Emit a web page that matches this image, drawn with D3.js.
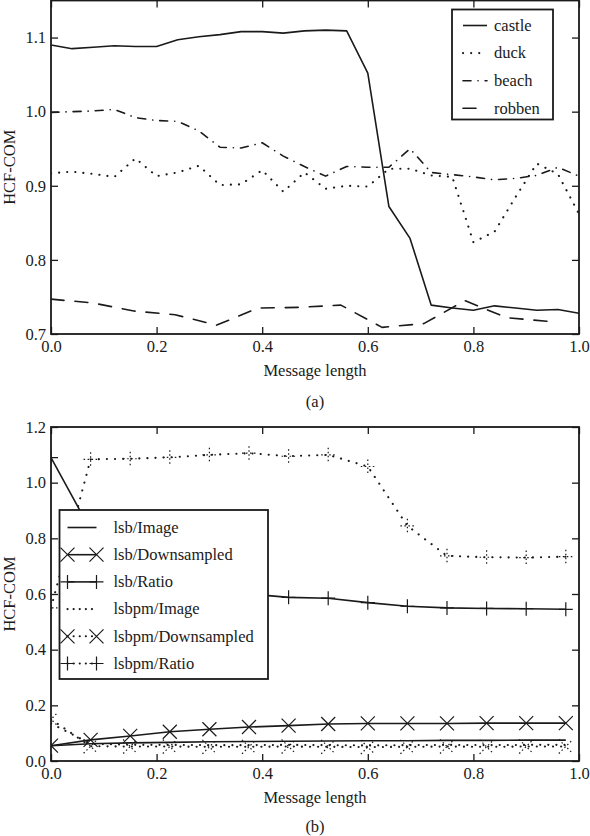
<!DOCTYPE html>
<html><head><meta charset="utf-8">
<script src="https://cdn.jsdelivr.net/npm/d3@7/dist/d3.min.js"></script>
<style>
body{margin:0;background:#fff}
svg{display:block}
text{font-family:"Liberation Serif","Times New Roman",serif;fill:#1a1a1a}
</style>
</head><body>
<svg id="c" width="590" height="836"></svg>
<script>
// ---------- DATA (a) ----------
const xTop = [0, 0.04, 0.08, 0.12, 0.16, 0.20, 0.24, 0.28, 0.32, 0.36, 0.40, 0.44, 0.48, 0.52, 0.56, 0.60, 0.64, 0.68, 0.72, 0.76, 0.80, 0.84, 0.88, 0.92, 0.96, 1.00];
const castle = [1.090, 1.085, 1.087, 1.089, 1.088, 1.088, 1.097, 1.101, 1.104, 1.108, 1.108, 1.106, 1.109, 1.110, 1.109, 1.052, 0.872, 0.829, 0.739, 0.735, 0.732, 0.738, 0.735, 0.732, 0.733, 0.728];
const duck   = [0.917, 0.919, 0.916, 0.912, 0.937, 0.913, 0.918, 0.927, 0.901, 0.902, 0.921, 0.892, 0.918, 0.896, 0.900, 0.899, 0.923, 0.923, 0.914, 0.912, 0.824, 0.838, 0.885, 0.930, 0.916, 0.862];
const beach  = [0.999, 1.000, 1.001, 1.003, 0.992, 0.988, 0.987, 0.974, 0.952, 0.951, 0.958, 0.940, 0.926, 0.913, 0.926, 0.925, 0.925, 0.950, 0.918, 0.915, 0.912, 0.908, 0.910, 0.914, 0.925, 0.913];
const xRobben = [0, 0.078, 0.157, 0.235, 0.314, 0.392, 0.471, 0.549, 0.627, 0.706, 0.784, 0.863, 0.941];
const robben = [0.747, 0.742, 0.731, 0.726, 0.712, 0.735, 0.736, 0.739, 0.709, 0.714, 0.745, 0.722, 0.717];
const seriesTop = ["castle", "duck", "beach", "robben"];
const xTicksTop = [0, 0.2, 0.4, 0.6, 0.8, 1.0];
const yTicksTop = [0.7, 0.8, 0.9, 1.0, 1.1];

// ---------- DATA (b) ----------
const xBot = [0, 0.075, 0.15, 0.225, 0.3, 0.375, 0.45, 0.525, 0.6, 0.675, 0.75, 0.825, 0.9, 0.975];
const lsbImage   = [0.055, 0.062, 0.065, 0.067, 0.069, 0.070, 0.071, 0.072, 0.073, 0.073, 0.074, 0.074, 0.075, 0.075];
const lsbDown    = [0.055, 0.076, 0.090, 0.105, 0.114, 0.122, 0.127, 0.133, 0.135, 0.135, 0.135, 0.136, 0.136, 0.136];
const lsbRatio   = [1.090, 0.830, 0.730, 0.665, 0.625, 0.600, 0.588, 0.585, 0.569, 0.556, 0.550, 0.548, 0.547, 0.545];
const lsbpmImage = [0.135, 0.062, 0.058, 0.058, 0.057, 0.057, 0.058, 0.057, 0.056, 0.057, 0.058, 0.057, 0.058, 0.058];
const lsbpmDown  = [0.150, 0.053, 0.052, 0.052, 0.051, 0.051, 0.052, 0.051, 0.050, 0.051, 0.052, 0.051, 0.052, 0.052];
const lsbpmRatio = [0.550, 1.084, 1.086, 1.091, 1.100, 1.106, 1.095, 1.100, 1.058, 0.845, 0.737, 0.732, 0.731, 0.734];
const seriesBot = ["lsb/Image", "lsb/Downsampled", "lsb/Ratio", "lsbpm/Image", "lsbpm/Downsampled", "lsbpm/Ratio"];
const xTicksBot = [0, 0.2, 0.4, 0.6, 0.8, 1.0];
const yTicksBot = [0, 0.2, 0.4, 0.6, 0.8, 1.0, 1.2];

// ---------- DRAW ----------
const INK = "#1a1a1a";
const FONT = '"Liberation Serif","Times New Roman",serif';
const svg = d3.select("#c");
const fmt = d3.format(".1f");

const styles = {
  solid: null,
  dotted: "0.1,8",
  dashdot: "8,7,0.1,7",
  dashed: "13,11"
};
const markerPath = {
  x: "M-7,-7L7,7M-7,7L7,-7",
  plus: "M-7,0L7,0M0,-7L0,7",
  none: null
};

function panel(id, box, xDom, yDom, xTicks, yTicks) {
  const x = d3.scaleLinear().domain(xDom).range([box.l, box.r]);
  const y = d3.scaleLinear().domain(yDom).range([box.b, box.t]);
  const g = svg.append("g");
  g.append("clipPath").attr("id", id).append("rect")
    .attr("x", box.l).attr("y", box.t).attr("width", box.r - box.l).attr("height", box.b - box.t);
  const style = sel => {
    sel.attr("font-family", FONT).attr("font-size", 16.5);
    sel.select(".domain").remove();
    sel.selectAll(".tick line").attr("stroke", INK).attr("stroke-width", 1.3);
    sel.selectAll("text").attr("fill", INK);
  };
  g.append("g").attr("transform", `translate(0,${box.b})`)
    .call(d3.axisBottom(x).tickValues(xTicks).tickFormat(fmt).tickSizeInner(-7).tickSizeOuter(0).tickPadding(6)).call(style);
  g.append("g").attr("transform", `translate(0,${box.t})`)
    .call(d3.axisTop(x).tickValues(xTicks).tickFormat("").tickSizeInner(-7).tickSizeOuter(0)).call(style);
  g.append("g").attr("transform", `translate(${box.l},0)`)
    .call(d3.axisLeft(y).tickValues(yTicks).tickFormat(fmt).tickSizeInner(-7).tickSizeOuter(0).tickPadding(5)).call(style);
  g.append("g").attr("transform", `translate(${box.r},0)`)
    .call(d3.axisRight(y).tickValues(yTicks).tickFormat("").tickSizeInner(-7).tickSizeOuter(0)).call(style);
  const data = g.append("g").attr("clip-path", `url(#${id})`);
  g.append("rect").attr("x", box.l).attr("y", box.t).attr("width", box.r - box.l).attr("height", box.b - box.t)
    .attr("fill", "none").attr("stroke", INK).attr("stroke-width", 1.8);
  const cx = (box.l + box.r) / 2;
  g.append("text").attr("x", cx).attr("y", box.b + 42).attr("text-anchor", "middle").attr("font-size", 16.5).text("Message length");
  g.append("text").attr("transform", `translate(15,${(box.t + box.b) / 2}) rotate(-90)`).attr("text-anchor", "middle").attr("font-size", 16.5).text("HCF-COM");
  return {x, y, g, data};
}

function drawLine(target, x, y, xs, ys, dash, marker) {
  const pts = d3.zip(xs, ys);
  const line = d3.line().x(d => x(d[0])).y(d => y(d[1]));
  const isDot = dash === styles.dotted;
  target.append("path").attr("d", line(pts)).attr("fill", "none").attr("stroke", INK)
    .attr("stroke-width", isDot ? 2.1 : 1.6).attr("stroke-linecap", dash ? "round" : "butt").attr("stroke-linejoin", "round")
    .attr("stroke-dasharray", dash);
  if (marker && markerPath[marker]) {
    target.selectAll(null).data(pts).enter().append("path")
      .attr("transform", d => `translate(${x(d[0])},${y(d[1])})`)
      .attr("d", markerPath[marker]).attr("fill", "none").attr("stroke", INK).attr("stroke-width", 1.2)
      .attr("stroke-dasharray", dash ? "1.5,2.5" : null);
  }
}

// ----- panel (a) -----
const A = panel("clipA", {l: 51, r: 579, t: 0.5, b: 334}, [0, 1], [0.7, 1.15], xTicksTop, yTicksTop);
const topSeries = [
  {xs: xTop, ys: castle, dash: styles.solid},
  {xs: xTop, ys: duck, dash: styles.dotted},
  {xs: xTop, ys: beach, dash: styles.dashdot},
  {xs: xRobben, ys: robben, dash: styles.dashed}
];
topSeries.forEach(s => drawLine(A.data, A.x, A.y, s.xs, s.ys, s.dash, null));
svg.append("text").attr("x", 315).attr("y", 407).attr("text-anchor", "middle").attr("font-size", 16.5).text("(a)");

// legend (a)
const LA = {x: 452, y: 9.5, w: 101, h: 110, y0: 25.5, dy: 27.6};
const legA = svg.append("g");
legA.append("rect").attr("x", LA.x).attr("y", LA.y).attr("width", LA.w).attr("height", LA.h)
  .attr("fill", "#fff").attr("stroke", INK).attr("stroke-width", 1.8);
seriesTop.forEach((name, i) => {
  const yy = LA.y0 + i * LA.dy;
  const d = topSeries[i].dash;
  legA.append("line").attr("x1", LA.x + 11).attr("x2", LA.x + 35).attr("y1", yy).attr("y2", yy)
    .attr("stroke", INK).attr("stroke-width", d === styles.dotted ? 2.1 : 1.6).attr("stroke-linecap", d ? "round" : "butt")
    .attr("stroke-dasharray", d);
  legA.append("text").attr("x", LA.x + 42).attr("y", yy).attr("dy", "0.32em").attr("font-size", 16.5).text(name);
});

// ----- panel (b) -----
const B = panel("clipB", {l: 51, r: 579, t: 427, b: 761}, [0, 1], [0, 1.2], xTicksBot, yTicksBot);
const botSeries = [
  {ys: lsbImage, dash: styles.solid, marker: "none"},
  {ys: lsbDown, dash: styles.solid, marker: "x"},
  {ys: lsbRatio, dash: styles.solid, marker: "plus"},
  {ys: lsbpmImage, dash: styles.dotted, marker: "none"},
  {ys: lsbpmDown, dash: styles.dotted, marker: "x"},
  {ys: lsbpmRatio, dash: styles.dotted, marker: "plus"}
];
botSeries.forEach(s => drawLine(B.data, B.x, B.y, xBot, s.ys, s.dash, s.marker));
svg.append("text").attr("x", 315).attr("y", 832).attr("text-anchor", "middle").attr("font-size", 16.5).text("(b)");

// legend (b)
const LB = {x: 59.5, y: 510, w: 208.5, h: 169, y0: 527.5, dy: 27.2};
const legB = svg.append("g");
legB.append("rect").attr("x", LB.x).attr("y", LB.y).attr("width", LB.w).attr("height", LB.h)
  .attr("fill", "#fff").attr("stroke", INK).attr("stroke-width", 1.8);
seriesBot.forEach((name, i) => {
  const yy = LB.y0 + i * LB.dy;
  const s = botSeries[i];
  const x1 = LB.x + 8, x2 = LB.x + 37;
  legB.append("line").attr("x1", x1).attr("x2", x2).attr("y1", yy).attr("y2", yy)
    .attr("stroke", INK).attr("stroke-width", s.dash ? 2.1 : 1.6).attr("stroke-linecap", s.dash ? "round" : "butt")
    .attr("stroke-dasharray", s.dash ? "0.1,6" : null);
  if (markerPath[s.marker]) {
    [x1, x2].forEach(mx => legB.append("path").attr("transform", `translate(${mx},${yy})`)
      .attr("d", markerPath[s.marker]).attr("fill", "none").attr("stroke", INK).attr("stroke-width", 1.2));
  }
  legB.append("text").attr("x", LB.x + 54).attr("y", yy).attr("dy", "0.32em").attr("font-size", 16.5).text(name);
});
</script>
</body></html>
